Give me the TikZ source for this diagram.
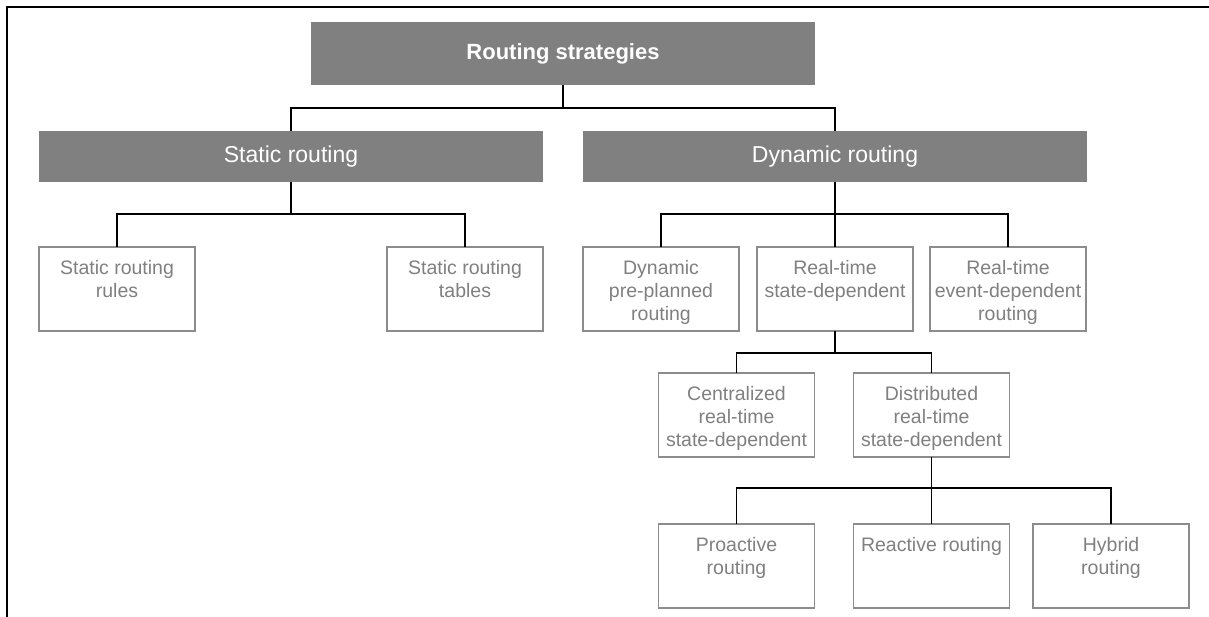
\documentclass[tikz,border=0pt]{standalone}
\usepackage{fontspec}
\setmainfont{Liberation Sans}
\usetikzlibrary{calc}
\definecolor{headfill}{RGB}{128,128,128}
\definecolor{leafline}{RGB}{140,140,140}
\definecolor{leaftext}{RGB}{128,128,128}
\newcommand{\leaftxt}[1]{\parbox[c][84pt][t]{156pt}{\centering\fontsize{19.5}{23}\selectfont\rule{0pt}{27pt}#1}}
\tikzset{
  headbox/.style={rectangle, fill=headfill, draw=none, text=white, inner sep=0pt, outer sep=0pt,
    minimum width=504pt, font=\fontsize{23}{27}\selectfont},
  leafbox/.style={rectangle, fill=white, draw=leafline, line width=1.2pt, text=leaftext,
    inner sep=0pt, outer sep=0pt, minimum width=156pt},
  link/.style={draw=black, line width=1.4pt},
}
\begin{document}
\begin{tikzpicture}[x=1pt, y=-1pt]
  \useasboundingbox (0,0) rectangle (1209,616);
  % outer frame (top and left edges)
  \draw[line width=2.6pt] (7,620) -- (7,7) -- (1212,7);

  % headers
  \node[headbox, minimum height=63pt, font=\fontsize{22}{26}\selectfont\bfseries] (root) at (563,53.5) {Routing strategies};
  \node[headbox, minimum height=51pt] (static) at (291,156.5) {Static routing};
  \node[headbox, minimum height=51pt] (dynamic) at (835,156.5) {Dynamic routing};

  % second level
  \node[leafbox] (rules) at (117,289) {\leaftxt{Static routing\\rules}};
  \node[leafbox] (tables) at (465,289) {\leaftxt{Static routing\\tables}};
  \node[leafbox] (preplan) at (661,289) {\leaftxt{Dynamic\\pre-planned\\routing}};
  \node[leafbox] (statedep) at (835,289) {\leaftxt{Real-time\\state-dependent}};
  \node[leafbox] (eventdep) at (1008,289) {\leaftxt{Real-time\\event-dependent\\routing}};

  % third level
  \node[leafbox] (central) at (736.5,415) {\leaftxt{Centralized\\real-time\\state-dependent}};
  \node[leafbox] (distrib) at (931.5,415) {\leaftxt{Distributed\\real-time\\state-dependent}};

  % fourth level
  \node[leafbox] (proactive) at (736.5,566) {\leaftxt{Proactive\\routing}};
  \node[leafbox] (reactive) at (931.5,566) {\leaftxt{Reactive routing}};
  \node[leafbox] (hybrid) at (1111,566) {\leaftxt{Hybrid\\routing}};

  % bus levels
  \coordinate (busA) at (0,108);
  \coordinate (busB) at (0,214);
  \coordinate (busC) at (0,353);
  \coordinate (busD) at (0,488);

  % connectors
  \draw[link] (root.south) -- (root.south |- busA) -| (static.north);
  \draw[link] (root.south |- busA) -| (dynamic.north);

  \draw[link] (static.south) -- (static.south |- busB) -| (rules.north);
  \draw[link] (static.south |- busB) -| (tables.north);

  \draw[link] (dynamic.south) -- (statedep.north);
  \draw[link] (preplan.north) |- (dynamic.south |- busB) -| (eventdep.north);

  \draw[link] (statedep.south) -- (statedep.south |- busC) -| (central.north);
  \draw[link] (statedep.south |- busC) -| (distrib.north);

  \draw[link] (distrib.south) -- (reactive.north);
  \draw[link] (proactive.north) |- (distrib.south |- busD) -| (hybrid.north);
\end{tikzpicture}
\end{document}
